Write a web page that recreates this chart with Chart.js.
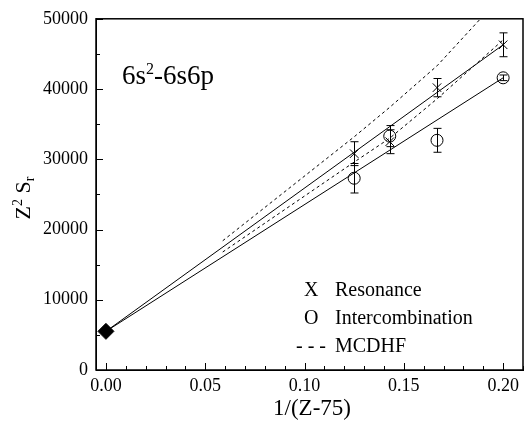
<!DOCTYPE html>
<html><head><meta charset="utf-8">
<script src="https://cdn.jsdelivr.net/npm/chart.js@4.4.0/dist/chart.umd.min.js"></script>
<style>html,body{margin:0;padding:0;background:#fff}#wrap{width:532px;height:428px}</style>
</head><body><div id="wrap"><canvas id="c" width="532" height="428"></canvas></div>
<script>
// ---- data ----
const resX = [0.125, 0.1429, 0.1667, 0.2];
const resY = [30800, 32500, 40200, 46300];
const resErr = [1700, 1700, 1300, 1700];
const interX = [0.125, 0.1429, 0.1667, 0.2];
const interY = [27300, 33300, 32700, 41600];
const interErr = [2100, 1500, 1700, 400];
const extrapX = [0];
const extrapY = [5500];
const fitResX = [0, 0.2];
const fitResY = [5500, 46300];
const fitInterX = [0, 0.2];
const fitInterY = [5500, 41600];
const mcUpperX = [0.0588, 0.125, 0.1429, 0.1667, 0.2];
const mcUpperY = [18400, 33200, 37400, 43300, 53500];
const mcLowerX = [0.0588, 0.125, 0.1429, 0.1667, 0.2];
const mcLowerY = [16800, 29600, 33000, 38600, 47000];
const xTicks = [0, 0.05, 0.10, 0.15, 0.20];
const xMinorStep = 0.01;
const yTicks = [0, 10000, 20000, 30000, 40000, 50000];
const yMinorStep = 5000;
const panelLabel = ['6s', '2', '-6s6p'];
const xTitle = '1/(Z-75)';
const yTitle = ['Z', '2', ' S', 'r'];
const legendItems = [['X', 'Resonance'], ['O', 'Intercombination'], ['- - -', 'MCDHF']];

const pts = (xs, ys) => xs.map((x, i) => ({x: x, y: ys[i]}));
const SERIF = '"Liberation Serif", "DejaVu Serif", serif';

const decor = {
  id: 'decor',
  afterDatasetsDraw(chart) {
    const ctx = chart.ctx, xs = chart.scales.x, ys = chart.scales.y, a = chart.chartArea;
    ctx.save();
    ctx.strokeStyle = '#000'; ctx.lineWidth = 1;
    // error bars
    const bars = (X, Y, E) => X.forEach((x, i) => {
      const px = Math.round(xs.getPixelForValue(x)) + 0.5;
      const t = ys.getPixelForValue(Y[i] + E[i]), b = ys.getPixelForValue(Y[i] - E[i]);
      ctx.beginPath();
      ctx.moveTo(px, t); ctx.lineTo(px, b);
      ctx.moveTo(px - 4, t); ctx.lineTo(px + 4, t);
      ctx.moveTo(px - 4, b); ctx.lineTo(px + 4, b);
      ctx.stroke();
    });
    bars(resX, resY, resErr);
    bars(interX, interY, interErr);
    // frame
    ctx.lineWidth = 1.5;
    ctx.strokeRect(a.left, a.top, a.right - a.left, a.bottom - a.top);
    ctx.lineWidth = 1;
    // inward ticks
    ctx.beginPath();
    for (let v = 0; v <= 0.2100001; v += xMinorStep) {
      const px = Math.round(xs.getPixelForValue(v)) + 0.5;
      const major = xTicks.some(t => Math.abs(t - v) < 1e-6);
      const L = major ? 7 : 4;
      ctx.moveTo(px, a.bottom); ctx.lineTo(px, a.bottom - L);
    }
    for (let v = 0; v <= 50000; v += yMinorStep) {
      const py = Math.round(ys.getPixelForValue(v)) + 0.5;
      const major = yTicks.includes(v);
      const L = major ? 7 : 4;
      ctx.moveTo(a.left, py); ctx.lineTo(a.left + L, py);
    }
    ctx.stroke();
    ctx.restore();
  },
  afterDraw(chart) {
    const ctx = chart.ctx;
    ctx.save();
    ctx.fillStyle = '#000';
    ctx.textBaseline = 'alphabetic';
    // panel label
    let x = 122;
    ctx.font = '27px ' + SERIF;
    ctx.fillText(panelLabel[0], x, 84); x += ctx.measureText(panelLabel[0]).width;
    ctx.font = '16px ' + SERIF;
    ctx.fillText(panelLabel[1], x, 74); x += ctx.measureText(panelLabel[1]).width;
    ctx.font = '27px ' + SERIF;
    ctx.fillText(panelLabel[2], x, 84);
    // x title
    ctx.font = '23px ' + SERIF;
    ctx.textAlign = 'center';
    ctx.fillText(xTitle, 312, 415);
    // y title rotated
    ctx.save();
    ctx.translate(30, 198);
    ctx.rotate(-Math.PI / 2);
    ctx.textAlign = 'left';
    const parts = [[yTitle[0], 22, 0], [yTitle[1], 14, -8], [yTitle[2], 22, 0], [yTitle[3], 14, 4]];
    let w = 0;
    parts.forEach(p => { ctx.font = p[1] + 'px ' + SERIF; w += ctx.measureText(p[0]).width; });
    let cx = -w / 2;
    parts.forEach(p => { ctx.font = p[1] + 'px ' + SERIF; ctx.fillText(p[0], cx, p[2]); cx += ctx.measureText(p[0]).width; });
    ctx.restore();
    // legend
    ctx.textAlign = 'left';
    ctx.font = '20px ' + SERIF;
    const ly = [296, 324, 352];
    legendItems.forEach((it, i) => {
      const sx = i === 2 ? 296 : 304;
      ctx.fillText(it[0], sx, ly[i]);
      ctx.fillText(it[1], 335, ly[i]);
    });
    ctx.restore();
  }
};

new Chart(document.getElementById('c'), {
  type: 'scatter',
  data: {
    datasets: [
      {label: 'fit Resonance', data: pts(fitResX, fitResY), showLine: true, borderColor: '#000', borderWidth: 1, pointRadius: 0},
      {label: 'fit Intercombination', data: pts(fitInterX, fitInterY), showLine: true, borderColor: '#000', borderWidth: 1, pointRadius: 0},
      {label: 'MCDHF', data: pts(mcUpperX, mcUpperY), showLine: true, borderColor: '#000', borderWidth: 1, borderDash: [3, 3], pointRadius: 0},
      {label: 'MCDHF (2)', data: pts(mcLowerX, mcLowerY), showLine: true, borderColor: '#000', borderWidth: 1, borderDash: [3, 3], pointRadius: 0},
      {label: 'Resonance', data: pts(resX, resY), pointStyle: 'crossRot', pointRadius: 6, borderColor: '#000', borderWidth: 1},
      {label: 'Intercombination', data: pts(interX, interY), pointStyle: 'circle', pointRadius: 6, borderColor: '#000', backgroundColor: 'rgba(0,0,0,0)', borderWidth: 1},
      {label: 'Extrapolation', data: pts(extrapX, extrapY), pointStyle: 'rectRot', pointRadius: 8, borderColor: '#000', backgroundColor: '#000', borderWidth: 1, clip: false}
    ]
  },
  options: {
    responsive: false, animation: false, devicePixelRatio: 1,
    layout: {padding: {top: 15, right: 8, left: 0, bottom: 0}},
    plugins: {legend: {display: false}, tooltip: {enabled: false}},
    scales: {
      x: {
        type: 'linear', min: -0.005, max: 0.21,
        afterBuildTicks: s => { s.ticks = xTicks.map(v => ({value: v})); },
        afterFit: s => { s.height = 58; },
        grid: {display: true, drawOnChartArea: false, drawTicks: false},
        border: {display: true, color: '#000', width: 1},
        ticks: {color: '#000', padding: 5, maxRotation: 0, font: {family: SERIF, size: 18}, callback: v => v.toFixed(2)}
      },
      y: {
        type: 'linear', min: 0, max: 50000,
        afterBuildTicks: s => { s.ticks = yTicks.map(v => ({value: v})); },
        afterFit: s => { s.width = 96; },
        grid: {display: true, drawOnChartArea: false, drawTicks: false},
        border: {display: true, color: '#000', width: 1},
        ticks: {color: '#000', padding: 8, font: {family: SERIF, size: 18}, callback: v => String(v)}
      }
    }
  },
  plugins: [decor]
});
</script></body></html>
